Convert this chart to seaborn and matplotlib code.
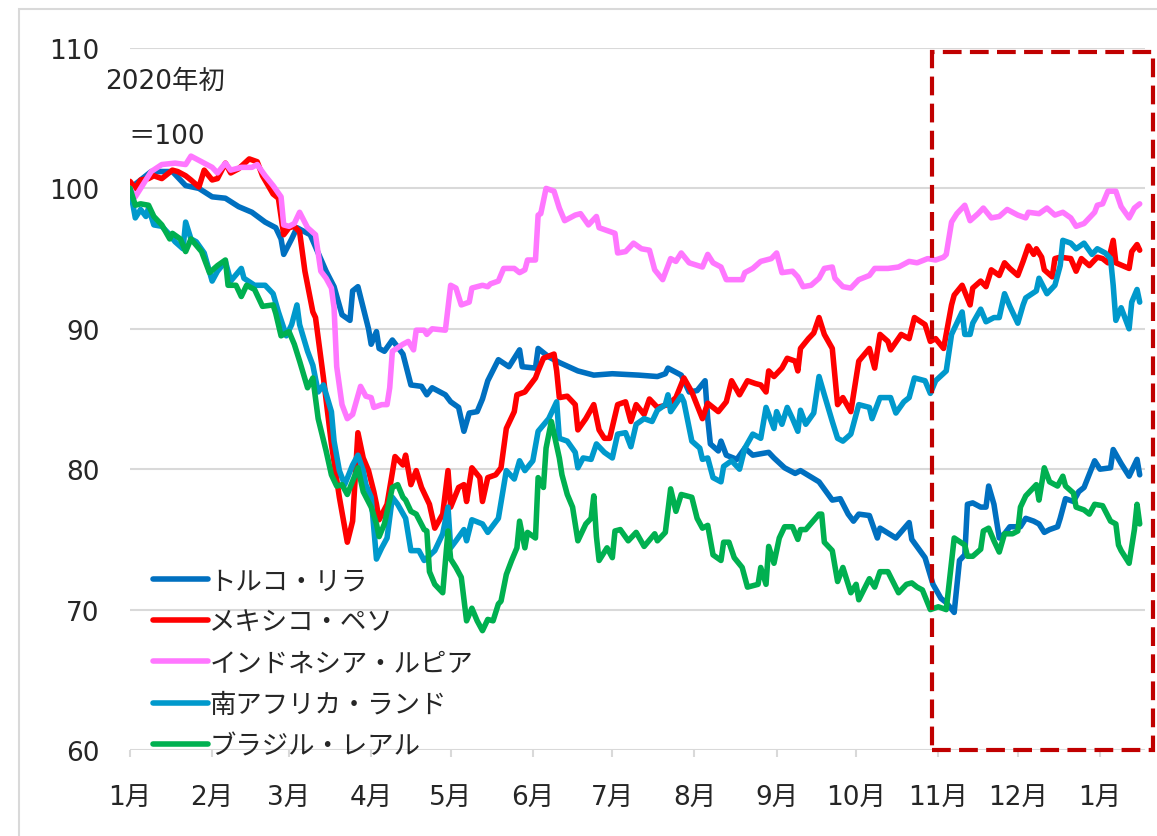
import pandas as pd
import numpy as np
import matplotlib.pyplot as plt
from matplotlib.patches import Rectangle
import seaborn as sns

# 2020-01-01 = day 0, values indexed to start of 2020 = 100
base = pd.Timestamp('2020-01-01')

tr_days = [0, 8, 16, 21, 26, 31, 36, 41, 46, 51, 55, 57, 58, 61, 63, 68, 74, 77, 80, 83, 84, 86, 90, 91, 93, 94,
           96, 99, 103, 106, 110, 112, 114, 119, 121, 124, 126, 128, 131, 133, 135, 139, 143, 147, 148, 153, 154,
           158, 162, 169, 175, 182, 192, 199, 202, 203, 208, 211, 214, 217, 218, 219, 222, 223, 225, 229, 232, 235,
           241, 243, 247, 251, 253, 260, 265, 268, 271, 273, 275, 279, 282, 283, 289, 294, 295, 300, 303, 306, 308,
           311, 313, 315, 316, 318, 321, 323, 324, 326, 328, 330, 332, 336, 338, 341, 343, 345, 347, 350, 351, 353,
           356, 358, 360, 364, 366, 370, 371, 374, 377, 380, 381]
tr_vals = [100, 101.2, 101.2, 100.2, 100, 99.4, 99.3, 98.7, 98.3, 97.6, 97.2, 96.4, 95.3, 96.4, 97.2, 96.7, 94.1,
           93, 91, 90.6, 92.7, 93, 90, 88.9, 89.8, 88.6, 88.4, 89.2, 88.2, 86, 85.9, 85.3, 85.8, 85.3, 84.8, 84.4,
           82.7, 84, 84.1, 85, 86.3, 87.8, 87.3, 88.5, 87.3, 87.2, 88.6, 88, 87.6, 87, 86.7, 86.8, 86.7, 86.6, 86.8,
           87.2, 86.7, 85.5, 85.6, 86.3, 83.6, 81.8, 81.3, 82, 81, 80.7, 81.5, 81, 81.2, 80.8, 80.1, 79.7, 79.9,
           79.1, 77.8, 77.9, 76.8, 76.3, 76.8, 76.7, 75.1, 75.8, 75.1, 76.2, 75, 73.7, 71.8, 70.8, 70.5, 69.8, 73.5,
           73.9, 77.5, 77.6, 77.3, 77.3, 78.8, 77.5, 75.1, 75.4, 75.9, 75.9, 76.5, 76.3, 76.1, 75.5, 75.7, 75.9,
           76.5, 77.9, 77.7, 78.4, 78.7, 80.6, 80, 80.1, 81.4, 80.4, 79.5, 80.7, 79.6]

mx_days = [0, 2, 4, 7, 9, 12, 16, 18, 21, 23, 26, 28, 31, 33, 36, 38, 41, 45, 48, 50, 54, 56, 58, 60, 62, 64, 66,
           69, 70, 73, 76, 79, 82, 84, 86, 88, 90, 92, 93, 94, 97, 100, 103, 104, 106, 108, 110, 113, 115, 118, 120,
           121, 124, 126, 127, 129, 132, 133, 135, 138, 140, 142, 145, 146, 149, 153, 154, 156, 160, 161, 162, 165,
           168, 169, 172, 175, 177, 179, 181, 184, 187, 189, 191, 194, 196, 199, 203, 206, 209, 212, 216, 218, 222,
           225, 227, 230, 233, 236, 238, 240, 241, 243, 246, 248, 251, 252, 253, 256, 258, 260, 262, 265, 267, 269,
           272, 275, 279, 281, 283, 286, 287, 291, 294, 296, 300, 302, 304, 307, 310, 311, 314, 317, 318, 321, 323,
           325, 328, 330, 332, 335, 337, 339, 341, 342, 344, 345, 348, 349, 351, 355, 357, 359, 362, 365, 367, 369,
           371, 372, 377, 378, 380, 381]
mx_vals = [100.5, 100, 100.6, 100.7, 100.9, 100.7, 101.3, 101.2, 100.9, 100.6, 100.1, 101.3, 100.6, 100.7, 101.8,
           101.1, 101.4, 102.1, 101.9, 100.9, 99.6, 99.3, 96.7, 97.2, 97.3, 96.9, 94.1, 91.2, 90.8, 86.5, 81.8, 78,
           74.8, 76.3, 82.6, 80.8, 79.9, 78.4, 77.5, 76.4, 77.5, 80.9, 80.3, 81, 78.9, 79.9, 78.7, 77.5, 75.8, 76.8,
           79.9, 77.3, 78.7, 78.9, 77.7, 80.1, 79.4, 77.7, 79.4, 79.6, 80.1, 82.9, 84.1, 85.3, 85.5, 86.5, 87, 87.9,
           88.2, 87, 85.1, 85.2, 84.6, 82.8, 83.6, 84.6, 82.8, 82.2, 82.2, 84.6, 84.8, 83.4, 84.6, 83.9, 85, 84.4,
           84.6, 85.1, 86.5, 85.5, 83.6, 84.7, 84.1, 84.8, 86.3, 85.3, 86.3, 86.1, 86, 85.5, 87, 86.6, 87.2, 87.9,
           87.7, 87, 88.6, 89.3, 89.7, 90.8, 89.6, 88.6, 84.6, 85.1, 84.1, 87.7, 88.6, 87.2, 89.6, 89.1, 88.5, 89.6,
           89.3, 90.8, 90.3, 89.1, 89.3, 88.6, 91.7, 92.4, 93.1, 91.7, 92.9, 93.4, 93, 94.2, 93.8, 94.7, 94.3, 93.8,
           94.8, 95.9, 95.3, 95.7, 95.1, 94.2, 93.7, 95, 95.1, 95, 94.1, 95, 94.5, 95.1, 95, 94.7, 96.3, 94.7, 94.3,
           95.5, 96, 95.6]

idr_days = [0, 2, 8, 12, 17, 21, 23, 27, 31, 33, 36, 38, 42, 46, 48, 51, 54, 57, 58, 60, 62, 64, 67, 70, 72, 74,
            76, 77, 78, 80, 82, 84, 87, 89, 91, 92, 95, 97, 98, 99, 103, 105, 107, 108, 111, 112, 114, 119, 121, 123,
            125, 128, 129, 133, 135, 136, 139, 141, 145, 147, 149, 150, 153, 154, 155, 157, 160, 162, 164, 168, 170,
            173, 176, 177, 183, 184, 187, 190, 193, 196, 198, 201, 204, 206, 208, 211, 216, 218, 220, 223, 225, 231,
            232, 235, 238, 242, 244, 246, 250, 252, 254, 257, 260, 262, 265, 266, 269, 272, 275, 279, 281, 286, 290,
            294, 297, 301, 304, 307, 308, 310, 312, 315, 317, 320, 322, 325, 328, 331, 335, 338, 339, 343, 346, 349,
            352, 355, 357, 360, 364, 365, 367, 369, 372, 374, 377, 379, 381]
idr_vals = [100, 99.4, 101.2, 101.7, 101.8, 101.7, 102.3, 101.9, 101.5, 101.1, 101.8, 101.3, 101.5, 101.5, 101.7,
            100.9, 100.2, 99.4, 97.4, 97.3, 97.5, 98.3, 97.2, 96.7, 94.1, 93.6, 92.9, 91.5, 87.3, 84.6, 83.6, 83.9,
            85.9, 85.2, 85.1, 84.4, 84.6, 84.6, 85.8, 88.4, 88.9, 89.1, 88.5, 89.9, 89.9, 89.6, 90, 89.9, 93.1, 92.9,
            91.7, 91.9, 92.9, 93.1, 93, 93.2, 93.4, 94.3, 94.3, 94, 94.2, 94.9, 94.9, 98.1, 98.2, 100, 99.8, 98.6,
            97.7, 98.1, 98.2, 97.4, 98, 97.2, 96.8, 95.4, 95.5, 96.1, 95.7, 95.6, 94.2, 93.5, 95, 94.8, 95.4, 94.7,
            94.4, 95.3, 94.7, 94.4, 93.5, 93.5, 94, 94.3, 94.8, 95, 95.4, 94, 94.1, 93.7, 93, 93.1, 93.6, 94.3, 94.4,
            93.6, 93, 92.9, 93.5, 93.8, 94.3, 94.3, 94.4, 94.8, 94.7, 95, 94.9, 95.1, 95.3, 97.6, 98.2, 98.8, 97.7,
            98.2, 98.6, 97.9, 98, 98.5, 98.1, 97.9, 98.3, 98.2, 98.6, 98.1, 98.3, 97.9, 97.3, 97.5, 98.3, 98.8, 98.9,
            99.8, 99.8, 98.7, 97.9, 98.6, 98.9]

zar_days = [0, 2, 4, 6, 7, 9, 12, 15, 17, 20, 21, 23, 25, 28, 31, 33, 36, 38, 42, 43, 47, 51, 54, 56, 59, 61, 63,
            64, 67, 69, 71, 73, 76, 77, 79, 81, 84, 86, 88, 89, 91, 93, 95, 97, 99, 101, 104, 106, 109, 111, 115,
            118, 120, 121, 123, 126, 127, 129, 133, 135, 139, 142, 145, 147, 149, 152, 154, 158, 161, 162, 165, 168,
            169, 171, 174, 176, 179, 182, 184, 187, 189, 191, 194, 197, 199, 202, 203, 204, 208, 209, 212, 215, 216,
            218, 220, 223, 224, 227, 230, 232, 235, 238, 240, 243, 244, 246, 248, 250, 252, 253, 255, 258, 260, 262,
            265, 267, 269, 272, 275, 279, 280, 283, 287, 289, 292, 294, 296, 300, 302, 304, 308, 310, 313, 314, 315,
            317, 318, 321, 323, 326, 328, 330, 332, 335, 337, 338, 342, 343, 346, 349, 351, 352, 355, 357, 360, 363,
            365, 368, 370, 371, 372, 374, 377, 378, 380, 381]
zar_vals = [100, 97.9, 98.5, 98, 98.6, 97.4, 97.3, 96.7, 96.2, 95.7, 97.6, 96.4, 96.2, 95.4, 93.4, 94.1, 94.8,
            93.4, 94.3, 93.6, 93.1, 93.1, 92.5, 91.2, 89.5, 90.3, 91.7, 90.3, 88.4, 87.4, 85.5, 86, 84.1, 82, 79.9,
            78.9, 80.3, 81, 79.9, 78.9, 78, 73.6, 74.4, 75.1, 78, 77.5, 76.5, 74.2, 74.2, 73.5, 74.2, 75.4, 77.3,
            74.4, 74.9, 75.7, 74.9, 76.4, 76.1, 75.5, 76.5, 79.9, 79.3, 80.6, 79.9, 80.6, 82.7, 83.6, 84.8, 82.2, 82,
            81.2, 80.1, 80.8, 80.7, 81.8, 81.2, 80.8, 82.5, 82.6, 81.6, 83.2, 83.6, 83.4, 84.2, 84.6, 85.3, 84.1,
            85.2, 84.8, 82, 81.5, 80.7, 80.8, 79.4, 79.1, 80.2, 80.6, 80, 81.5, 82.5, 82.2, 84.4, 82.9, 84.1, 83.2,
            84.4, 83.6, 82.7, 84.2, 83.2, 84, 86.6, 85.3, 83.4, 82.2, 82, 82.5, 84.6, 84.4, 83.6, 85.1, 85.1, 84,
            84.8, 85.1, 86.5, 86.3, 85.4, 86.3, 87, 89.6, 90.8, 91.2, 89.6, 89.6, 90.4, 91.4, 90.5, 90.8, 90.8, 92.5,
            91.6, 90.4, 91.7, 92.2, 92.7, 93.6, 92.5, 93.1, 94.5, 96.3, 96.1, 95.7, 96.1, 95.3, 95.7, 95.4, 95, 93.1,
            90.6, 91.5, 90, 91.9, 92.8, 91.9]

brl_days = [0, 2, 4, 7, 9, 12, 15, 16, 19, 21, 23, 27, 30, 33, 36, 37, 40, 42, 44, 47, 50, 54, 55, 57, 60, 62, 64,
            67, 69, 71, 74, 76, 78, 80, 82, 86, 88, 91, 93, 94, 96, 99, 101, 103, 104, 106, 108, 111, 112, 113, 115,
            118, 120, 121, 123, 125, 127, 129, 131, 133, 135, 137, 139, 140, 142, 144, 146, 147, 149, 150, 153, 154,
            156, 157, 159, 162, 163, 165, 167, 169, 172, 174, 175, 176, 177, 180, 182, 183, 185, 188, 191, 194, 198,
            199, 202, 204, 206, 208, 212, 214, 216, 218, 220, 223, 224, 226, 228, 231, 233, 237, 238, 240, 241, 243,
            245, 247, 250, 252, 253, 255, 260, 261, 262, 265, 267, 269, 272, 274, 275, 279, 281, 283, 286, 290, 293,
            295, 297, 299, 302, 305, 308, 311, 315, 316, 318, 321, 322, 324, 326, 328, 330, 333, 335, 336, 338, 342,
            343, 345, 347, 350, 352, 353, 356, 357, 360, 362, 364, 367, 370, 372, 373, 374, 377, 379, 380, 381]
brl_vals = [100, 98.8, 98.9, 98.8, 98, 97.4, 96.4, 96.8, 96.4, 95.5, 96.4, 95.5, 94, 94.5, 94.9, 93.1, 93.1, 92.3,
            93.1, 92.8, 91.6, 91.7, 91.1, 89.5, 89.8, 88.9, 87.7, 85.8, 86.5, 83.6, 81.3, 79.6, 78.8, 78.9, 78.2,
            80.1, 78.4, 77.3, 76.1, 75.2, 76.1, 78.7, 78.9, 78, 77.8, 77, 76.8, 75.7, 75.6, 72.7, 71.8, 71.2, 75.6,
            73.6, 73, 72.3, 69.2, 70.1, 69.2, 68.5, 69.3, 69.2, 70.4, 70.6, 72.5, 73.5, 74.4, 76.3, 74.4, 75.5, 75.1,
            79.4, 78.7, 81.5, 83.4, 80.8, 79.6, 78.2, 77.3, 74.9, 76.1, 76.5, 78.1, 75.2, 73.5, 74.4, 73.7, 75.6,
            75.7, 74.9, 75.5, 74.5, 75.4, 74.9, 75.5, 78.6, 77, 78.2, 78, 76.5, 75.8, 76, 73.9, 73.5, 74.8, 74.8,
            73.7, 73, 71.6, 71.8, 73, 71.8, 74.5, 73.3, 75.1, 75.9, 75.9, 75, 75.7, 75.7, 76.8, 76.8, 74.8, 74.2, 72,
            73, 71.2, 71.8, 70.7, 72.2, 71.6, 72.7, 72.7, 71.2, 71.8, 71.9, 71.6, 71.4, 70, 70.2, 70, 75.1, 74.6,
            73.8, 73.8, 74.3, 75.6, 75.8, 74.9, 74.1, 75.4, 75.4, 75.6, 77.3, 78.1, 78.9, 77.8, 80.1, 79.1, 78.8,
            79.5, 78.8, 78.3, 77.3, 77.1, 76.8, 77.5, 77.4, 76.3, 76.1, 74.6, 74.2, 73.3, 75.7, 77.5, 76.1]

names = ['トルコ・リラ', 'メキシコ・ペソ', 'インドネシア・ルピア', '南アフリカ・ランド', 'ブラジル・レアル']
colors = ['#0070C0', '#FF0000', '#FF77FF', '#0099CC', '#00B050']
month_labels = ['1月', '2月', '3月', '4月', '5月', '6月', '7月', '8月', '9月', '10月', '11月', '12月', '1月']

frames = []
for name, d, v in zip(names, [tr_days, mx_days, idr_days, zar_days, brl_days],
                      [tr_vals, mx_vals, idr_vals, zar_vals, brl_vals]):
    frames.append(pd.DataFrame({'date': base + pd.to_timedelta(d, unit='D'), 'value': v, 'currency': name}))
df = pd.concat(frames, ignore_index=True)

sns.set_style('white')
plt.rcParams['font.family'] = ['DejaVu Sans', 'Noto Sans CJK JP']

W, H = 1157, 837
fig = plt.figure(figsize=(W / 100, H / 100), dpi=100)
ax = fig.add_axes([130 / W, 1 - 751 / H, 1015 / W, 702 / H])

sns.lineplot(data=df, x='date', y='value', hue='currency', hue_order=names, palette=colors,
             linewidth=4, estimator=None, sort=False, ax=ax)

ax.set_ylim(60, 110)
ax.set_yticks(range(60, 111, 10))
ax.set_xlim(base, base + pd.Timedelta(days=383))
ax.set_xticks([base + pd.DateOffset(months=i) for i in range(13)])
ax.set_xticklabels(month_labels)
ax.set_xlabel('')
ax.set_ylabel('')
ax.grid(axis='y', color='#D9D9D9', lw=1.5)
ax.set_axisbelow(True)
for s in ax.spines.values():
    s.set_visible(False)
ax.tick_params(axis='y', length=0, pad=22, labelsize=19)
ax.tick_params(axis='x', length=5, width=1.5, color='#D9D9D9', pad=20, labelsize=19, bottom=True)

leg = ax.legend(loc='lower left', bbox_to_anchor=(0.012, -0.028), frameon=False,
                prop={'family': 'Noto Sans CJK JP', 'size': 19}, handlelength=2.1,
                handletextpad=0.05, labelspacing=0.54, borderaxespad=0)
for h in leg.get_lines():
    h.set_linewidth(4)

fig.text(105 / W, 1 - 82 / H, '2020年初', ha='left', va='center', fontsize=19)
fig.text(128 / W, 1 - 137 / H, '＝100', ha='left', va='center', fontsize=19)

# highlighted period (dashed box)
fig.add_artist(Rectangle((932 / W, 1 - 751 / H), (1153 - 932) / W, (751 - 53) / H, transform=fig.transFigure,
                         fill=False, ec='#C00000', lw=3, ls=(0, (4.5, 2))))
# chart area border
fig.add_artist(Rectangle((19 / W, -0.1), 1.2, 1.1 - 10 / H, transform=fig.transFigure,
                         fill=False, ec='#D9D9D9', lw=1.5))

fig.savefig('out.png', dpi=100)
